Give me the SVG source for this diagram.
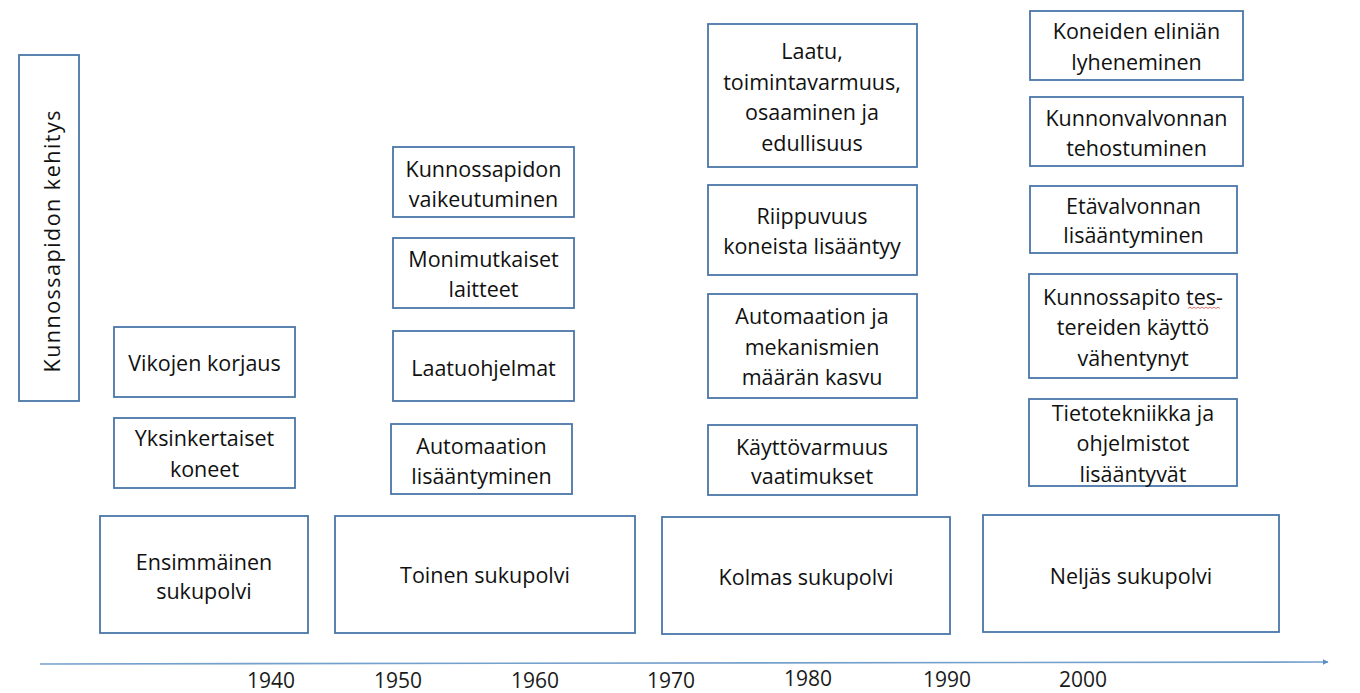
<svg xmlns="http://www.w3.org/2000/svg" width="1360" height="693" viewBox="0 0 1360 693">
  <style>
    .box { fill: #ffffff; stroke: #4a76a8; stroke-width: 1.8; }
    .t { font-family: "Open Sans", "Noto Sans", sans-serif; font-size: 21.5px; fill: #111111; text-anchor: middle; }
    .yr { font-family: "Open Sans", "Noto Sans", sans-serif; font-size: 21px; fill: #1a1a1a; text-anchor: middle; }
    .axis { stroke: #74a0cc; stroke-width: 1.6; fill: none; }
  </style>
  <defs>
    <marker id="arrow" viewBox="0 0 10 10" refX="9" refY="5" markerWidth="6" markerHeight="6" markerUnits="userSpaceOnUse" orient="auto">
      <path d="M0,0 L10,5 L0,10 z" fill="#5b8fc7"/>
    </marker>
  </defs>
  <rect width="1360" height="693" fill="#ffffff"/>

  <!-- side title -->
  <g id="title">
    <rect class="box" x="19" y="55" width="60" height="346"/>
    <text class="t" transform="translate(60,241.5) rotate(-90)" textLength="262" lengthAdjust="spacing">Kunnossapidon kehitys</text>
  </g>

  <!-- first generation -->
  <g id="vikojen">
    <rect class="box" x="114" y="327" width="181" height="70"/>
    <text class="t" x="204.5" y="371">Vikojen korjaus</text>
  </g>
  <g id="yksinkertaiset">
    <rect class="box" x="114" y="418" width="181" height="70"/>
    <text class="t" x="204.5" y="446">Yksinkertaiset</text>
    <text class="t" x="204.5" y="476.5">koneet</text>
  </g>
  <g id="gen1">
    <rect class="box" x="100" y="516" width="208" height="117"/>
    <text class="t" x="204" y="570">Ensimmäinen</text>
    <text class="t" x="204" y="599">sukupolvi</text>
  </g>

  <!-- second generation -->
  <g id="vaikeutuminen">
    <rect class="box" x="393" y="147" width="181" height="70"/>
    <text class="t" x="483.5" y="176.5">Kunnossapidon</text>
    <text class="t" x="483.5" y="207">vaikeutuminen</text>
  </g>
  <g id="monimutkaiset">
    <rect class="box" x="393" y="238" width="181" height="70"/>
    <text class="t" x="483.5" y="267">Monimutkaiset</text>
    <text class="t" x="483.5" y="297">laitteet</text>
  </g>
  <g id="laatuohjelmat">
    <rect class="box" x="393" y="331" width="181" height="70"/>
    <text class="t" x="483.5" y="376">Laatuohjelmat</text>
  </g>
  <g id="automaatio1">
    <rect class="box" x="391" y="424" width="181" height="70"/>
    <text class="t" x="481.5" y="454">Automaation</text>
    <text class="t" x="481.5" y="483.5">lisääntyminen</text>
  </g>
  <g id="gen2">
    <rect class="box" x="335" y="516" width="300" height="117"/>
    <text class="t" x="485" y="583">Toinen sukupolvi</text>
  </g>

  <!-- third generation -->
  <g id="laatu">
    <rect class="box" x="708" y="24" width="209" height="143"/>
    <text class="t" x="812" y="59">Laatu,</text>
    <text class="t" x="812" y="90">toimintavarmuus,</text>
    <text class="t" x="812" y="120">osaaminen ja</text>
    <text class="t" x="812" y="151">edullisuus</text>
  </g>
  <g id="riippuvuus">
    <rect class="box" x="708" y="185" width="209" height="90"/>
    <text class="t" x="812" y="224">Riippuvuus</text>
    <text class="t" x="812" y="254">koneista lisääntyy</text>
  </g>
  <g id="automaatio2">
    <rect class="box" x="708" y="294" width="209" height="104"/>
    <text class="t" x="812" y="324">Automaation ja</text>
    <text class="t" x="812" y="355">mekanismien</text>
    <text class="t" x="812" y="385">määrän kasvu</text>
  </g>
  <g id="kayttovarmuus">
    <rect class="box" x="708" y="425" width="209" height="70"/>
    <text class="t" x="812" y="455">Käyttövarmuus</text>
    <text class="t" x="812" y="484">vaatimukset</text>
  </g>
  <g id="gen3">
    <rect class="box" x="662" y="517" width="288" height="117"/>
    <text class="t" x="806" y="585">Kolmas sukupolvi</text>
  </g>

  <!-- fourth generation -->
  <g id="elinika">
    <rect class="box" x="1030" y="11" width="213" height="69"/>
    <text class="t" x="1136.5" y="39">Koneiden eliniän</text>
    <text class="t" x="1136.5" y="70">lyheneminen</text>
  </g>
  <g id="kunnonvalvonta">
    <rect class="box" x="1030" y="97" width="213" height="69"/>
    <text class="t" x="1136.5" y="126">Kunnonvalvonnan</text>
    <text class="t" x="1136.5" y="156">tehostuminen</text>
  </g>
  <g id="etavalvonta">
    <rect class="box" x="1030" y="186" width="207" height="67"/>
    <text class="t" x="1133.5" y="214">Etävalvonnan</text>
    <text class="t" x="1133.5" y="243">lisääntyminen</text>
  </g>
  <g id="testerit">
    <rect class="box" x="1029" y="274" width="208" height="104"/>
    <text class="t" x="1133" y="305">Kunnossapito tes-</text>
    <text class="t" x="1133" y="335">tereiden käyttö</text>
    <text class="t" x="1133" y="366">vähentynyt</text>
    <!-- spelling-check squiggle under "tes" -->
    <path d="M1188,308.5 l2,-1.5 l2,1.5 l2,-1.5 l2,1.5 l2,-1.5 l2,1.5 l2,-1.5 l2,1.5 l2,-1.5 l2,1.5 l2,-1.5 l2,1.5 l2,-1.5 l2,1.5 l2,-1.5 l2,1.5" fill="none" stroke="#d9534f" stroke-width="0.8"/>
  </g>
  <g id="tietotekniikka">
    <rect class="box" x="1029" y="399" width="208" height="87"/>
    <text class="t" x="1133" y="421">Tietotekniikka ja</text>
    <text class="t" x="1133" y="451">ohjelmistot</text>
    <text class="t" x="1133" y="482">lisääntyvät</text>
  </g>
  <g id="gen4">
    <rect class="box" x="983" y="515" width="296" height="117"/>
    <text class="t" x="1131" y="584">Neljäs sukupolvi</text>
  </g>

  <!-- time axis -->
  <g id="connectors">
    <line class="axis" x1="40" y1="664" x2="1328" y2="662" marker-end="url(#arrow)"/>
  </g>
  <g id="years">
    <text class="yr" x="271" y="688">1940</text>
    <text class="yr" x="398" y="688">1950</text>
    <text class="yr" x="535" y="688">1960</text>
    <text class="yr" x="671" y="688">1970</text>
    <text class="yr" x="808" y="686">1980</text>
    <text class="yr" x="947" y="687">1990</text>
    <text class="yr" x="1083" y="687">2000</text>
  </g>
</svg>
